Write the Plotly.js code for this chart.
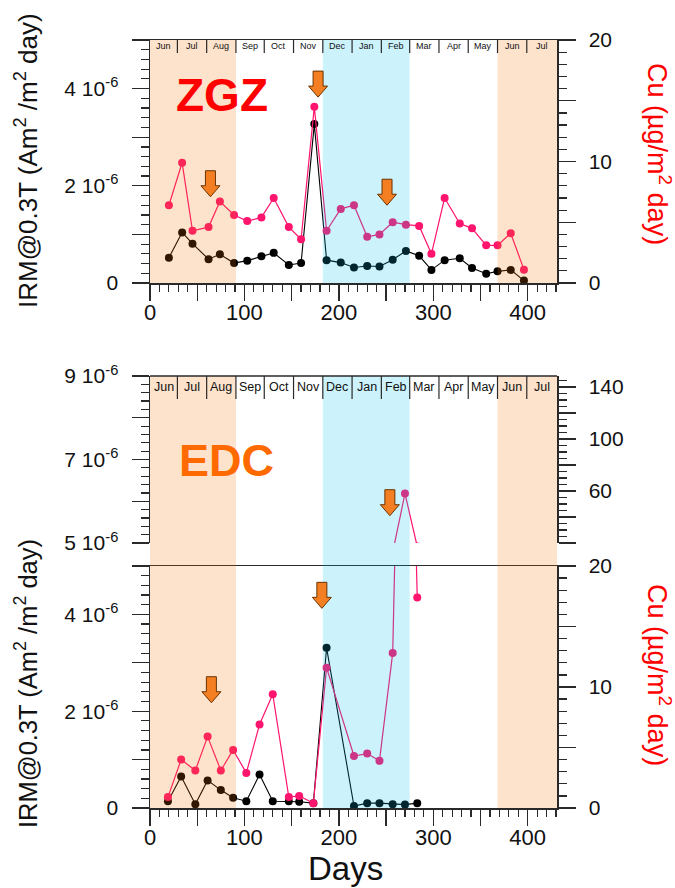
<!DOCTYPE html>
<html>
<head>
<meta charset="utf-8">
<script src="https://cdn.plot.ly/plotly-3.0.1.min.js"></script>
<style>html,body{margin:0;padding:0;background:#fff}#chart{width:675px;height:888px}</style>
</head>
<body>
<div id="chart"></div>
<script>
// ---------------- data ----------------
const zgzDays = [20,34,45,62,74,89,103,118,131,147,160,174,187,202,216,230,243,257,271,285,298,312,328,341,356,368,382,396];
const zgzCu   = [6.4,9.9,4.3,4.6,6.7,5.6,5.1,5.4,7.0,4.6,3.6,14.5,4.3,6.1,6.4,3.8,4.0,5.0,4.8,4.7,2.4,7.0,4.9,4.5,3.1,3.1,4.1,1.1];
const zgzIRM  = [0.52e-6,1.04e-6,0.81e-6,0.49e-6,0.59e-6,0.41e-6,0.46e-6,0.55e-6,0.62e-6,0.37e-6,0.41e-6,3.27e-6,0.47e-6,0.42e-6,0.32e-6,0.35e-6,0.34e-6,0.48e-6,0.66e-6,0.56e-6,0.27e-6,0.47e-6,0.51e-6,0.31e-6,0.19e-6,0.24e-6,0.27e-6,0.05e-6];

const edcDays = [19,33,48,61,75,88,102,116,130,147,158,173,187,216,230,243,257,270,283];
const edcCu   = [0.9,4.0,3.1,5.9,3.1,4.8,2.9,6.9,9.4,0.9,1.0,0.4,11.6,4.3,4.5,3.9,12.8,58,17.4];
const edcIRM  = [0.14e-6,0.65e-6,0.08e-6,0.57e-6,0.37e-6,0.21e-6,0.14e-6,0.69e-6,0.14e-6,0.14e-6,0.13e-6,0.10e-6,3.31e-6,0.04e-6,0.10e-6,0.10e-6,0.08e-6,0.07e-6,0.10e-6];

const monthNames  = ['Jun','Jul','Aug','Sep','Oct','Nov','Dec','Jan','Feb','Mar','Apr','May','Jun','Jul'];
const monthBounds = [0,29,60,91,121,152,183,214,245,275,306,337,368,399,431];

const summerStart = [0,368], summerEnd = [91,431];
const winterStart = [183],   winterEnd = [275];

const zgzArrowDay = [64,178,251];
const zgzArrowCu  = [7.1,15.3,6.4];
const edcArrowDay = [65,182,254];
const edcArrowCu  = [8.7,16.5,41];
const edcArrowAxis= ['y2','y2','y4'];

const xMajor = [0,50,100,150,200,250,300,350,400];
const xLabels = ['0','','100','','200','','300','','400'];
const irmLowVals = [0,1e-6,2e-6,3e-6,4e-6,5e-6];
const irmLowText = ['0','','2 10<sup>-6</sup>','','4 10<sup>-6</sup>',''];
const irmHighVals = [5e-6,6e-6,7e-6,8e-6,9e-6];
const irmHighText = ['5 10<sup>-6</sup>','','7 10<sup>-6</sup>','','9 10<sup>-6</sup>'];
const cuLowVals = [0,5,10,15,20];
const cuLowText = ['0','','10','','20'];
const cuHighVals = [20,40,60,80,100,120,140];
const cuHighText = ['','','60','','100','','140'];

// ---------------- style ----------------
const F = 'Liberation Sans, Arial, sans-serif';
const PINK = 'rgb(255,20,110)';
const LC = '#2a2a2a';
const W = 675, H = 888, ML = 150, MR = 118, MT = 40, MB = 80;
const PH = H - MT - MB;
const py = p => (H - MB - p) / PH;        // pixel y -> paper
const px = p => (p - ML) / (W - ML - MR); // pixel x -> paper
const topDom = [py(283), 1];
const upDom = [py(543), py(376)];
const lowDom = [0, py(566)];

function xax(anchor){
  return {anchor, range:[0,431], domain:[0,1], showline:true, mirror:true, linecolor:LC, linewidth:1.5,
    ticks:'outside', ticklen:16, tickwidth:1.3, tickcolor:LC, tickmode:'array', tickvals:xMajor, ticktext:xLabels,
    tickfont:{family:F,size:22,color:'#111'}, showgrid:false, zeroline:false, ticklabelstandoff:-7,
    minor:{tickmode:'linear', tick0:0, dtick:10, ticks:'outside', ticklen:7, tickwidth:1.2, tickcolor:LC, showgrid:false}};
}
function yax(o, vals, text, minorDt){
  return Object.assign({showline:true, linecolor:LC, linewidth:1.5, ticks:'outside', ticklen:17, tickwidth:1.3, tickcolor:LC,
    tickmode:'array', tickvals:vals, ticktext:text, tickfont:{family:F,size:21,color:'#111'}, showgrid:false, zeroline:false,
    ticklabelstandoff:9,
    minor:{tickmode:'linear', tick0:0, dtick:minorDt, ticks:'outside', ticklen:8, tickwidth:1.2, tickcolor:LC, showgrid:false}}, o);
}

const lineBlack = {color:'#000', width:1.1};
const lineP = {color:PINK, width:1.2};
const mk = c => ({color:c, size:8});

const traces = [
  {x:zgzDays, y:zgzIRM, xaxis:'x2', yaxis:'y5', mode:'lines+markers', line:lineBlack, marker:mk('#000')},
  {x:zgzDays, y:zgzCu,  xaxis:'x2', yaxis:'y6', mode:'lines+markers', line:lineP, marker:mk(PINK)},
  {x:edcDays, y:edcIRM, xaxis:'x', yaxis:'y', mode:'lines+markers', line:lineBlack, marker:mk('#000')},
  {x:edcDays, y:edcCu,  xaxis:'x', yaxis:'y2', mode:'lines+markers', line:lineP, marker:mk(PINK)},
  {x:edcDays, y:edcIRM, xaxis:'x', yaxis:'y3', mode:'lines+markers', line:lineBlack, marker:mk('#000')},
  {x:edcDays, y:edcCu,  xaxis:'x', yaxis:'y4', mode:'lines+markers', line:lineP, marker:mk(PINK)}
];

const shapes = [];
function shade(x0,x1,col,dom){
  shapes.push({type:'rect', layer:'above', xref:'x', x0, x1, yref:'paper', y0:dom[0], y1:dom[1],
    fillcolor:col, opacity:0.2, line:{width:0}});
}
[topDom,[0,upDom[1]]].forEach(dom=>{
  summerStart.forEach((s,i)=>shade(s,summerEnd[i],'rgb(245,110,0)',dom));
  winterStart.forEach((s,i)=>shade(s,winterEnd[i],'rgb(0,190,235)',dom));
});
// upper panel top line
shapes.push({type:'line', layer:'above', xref:'paper', x0:0, x1:1, yref:'paper', y0:upDom[1], y1:upDom[1], line:{color:LC,width:1.5}});
// month separators
const annotations = [];
monthBounds.slice(1,-1).forEach(b=>{
  shapes.push({type:'line', layer:'above', xref:'x', x0:b, x1:b, yref:'paper', ysizemode:'pixel', yanchor:1, y0:0, y1:-13, line:{color:LC,width:1.2}});
  shapes.push({type:'line', layer:'above', xref:'x', x0:b, x1:b, yref:'paper', ysizemode:'pixel', yanchor:upDom[1], y0:0, y1:-23, line:{color:LC,width:1.2}});
});
monthNames.forEach((m,i)=>{
  const xc = (monthBounds[i]+monthBounds[i+1])/2;
  annotations.push({xref:'x2', x:xc, yref:'paper', y:1, yshift:-6, xanchor:'center', yanchor:'middle', showarrow:false, text:m, font:{family:F,size:9,color:'#111'}});
  annotations.push({xref:'x', x:xc, yref:'paper', y:upDom[1], yshift:-11, xanchor:'center', yanchor:'middle', showarrow:false, text:m, font:{family:F,size:12.5,color:'#111'}});
});
// arrows
const arrowPath = 'M0,0 L-9.5,11 L-5,11 L-5,26 L5,26 L5,11 L9.5,11 Z';
function arrow(xr, x, yr, y){
  shapes.push({type:'path', layer:'above', xref:xr, xsizemode:'pixel', xanchor:x, yref:yr, ysizemode:'pixel', yanchor:y,
    path:arrowPath, fillcolor:'#f47f22', line:{color:'#6b3300', width:1}});
}
zgzArrowDay.forEach((d,i)=>arrow('x2', d, 'y6', zgzArrowCu[i]));
edcArrowDay.forEach((d,i)=>arrow('x', d, edcArrowAxis[i], edcArrowCu[i]));

// big labels and titles
function ann(x, y, text, font, angle){
  annotations.push({xref:'paper', x:px(x), yref:'paper', y:py(y), xanchor:'center', yanchor:'middle', showarrow:false,
    textangle:angle||0, text, font});
}
ann(222, 95, '<b>ZGZ</b>', {family:F,size:46,color:'#ff0000'});
ann(226, 460, '<b>EDC</b>', {family:F,size:45,color:'#ff6a00'});
const irmTitle = 'IRM@0.3T (Am<sup>2</sup> /m<sup>2</sup> day)';
const cuTitle = 'Cu (µg/m<sup>2</sup> day)';
ann(26, 160, irmTitle, {family:F,size:26,color:'#111'}, -90);
ann(26, 683, irmTitle, {family:F,size:25.5,color:'#111'}, -90);
ann(659, 154, cuTitle, {family:F,size:27,color:'#ff0000'}, 90);
ann(659, 675, cuTitle, {family:F,size:27,color:'#ff0000'}, 90);
ann(345, 868, 'Days', {family:F,size:33,color:'#111'});

const layout = {
  width:W, height:H, margin:{l:ML, r:MR, t:MT, b:MB}, paper_bgcolor:'#fff', plot_bgcolor:'rgba(0,0,0,0)',
  showlegend:false, font:{family:F},
  xaxis: xax('y'),
  xaxis2: xax('y5'),
  yaxis: yax({domain:lowDom, anchor:'x', range:[0,5e-6]}, irmLowVals, irmLowText, 0.2e-6),
  yaxis2: yax({overlaying:'y', side:'right', anchor:'x', range:[0,20]}, cuLowVals, cuLowText, 1),
  yaxis3: yax({domain:upDom, anchor:'x', range:[5e-6,9e-6]}, irmHighVals, irmHighText, 0.2e-6),
  yaxis4: yax({overlaying:'y3', side:'right', anchor:'x', range:[20,148.5]}, cuHighVals, cuHighText, 5),
  yaxis5: yax({domain:topDom, anchor:'x2', range:[0,5e-6]}, irmLowVals, irmLowText, 0.2e-6),
  yaxis6: yax({overlaying:'y5', side:'right', anchor:'x2', range:[0,20]}, cuLowVals, cuLowText, 1),
  shapes, annotations
};
Plotly.newPlot('chart', traces, layout, {displayModeBar:false, staticPlot:true});
</script>
</body>
</html>
